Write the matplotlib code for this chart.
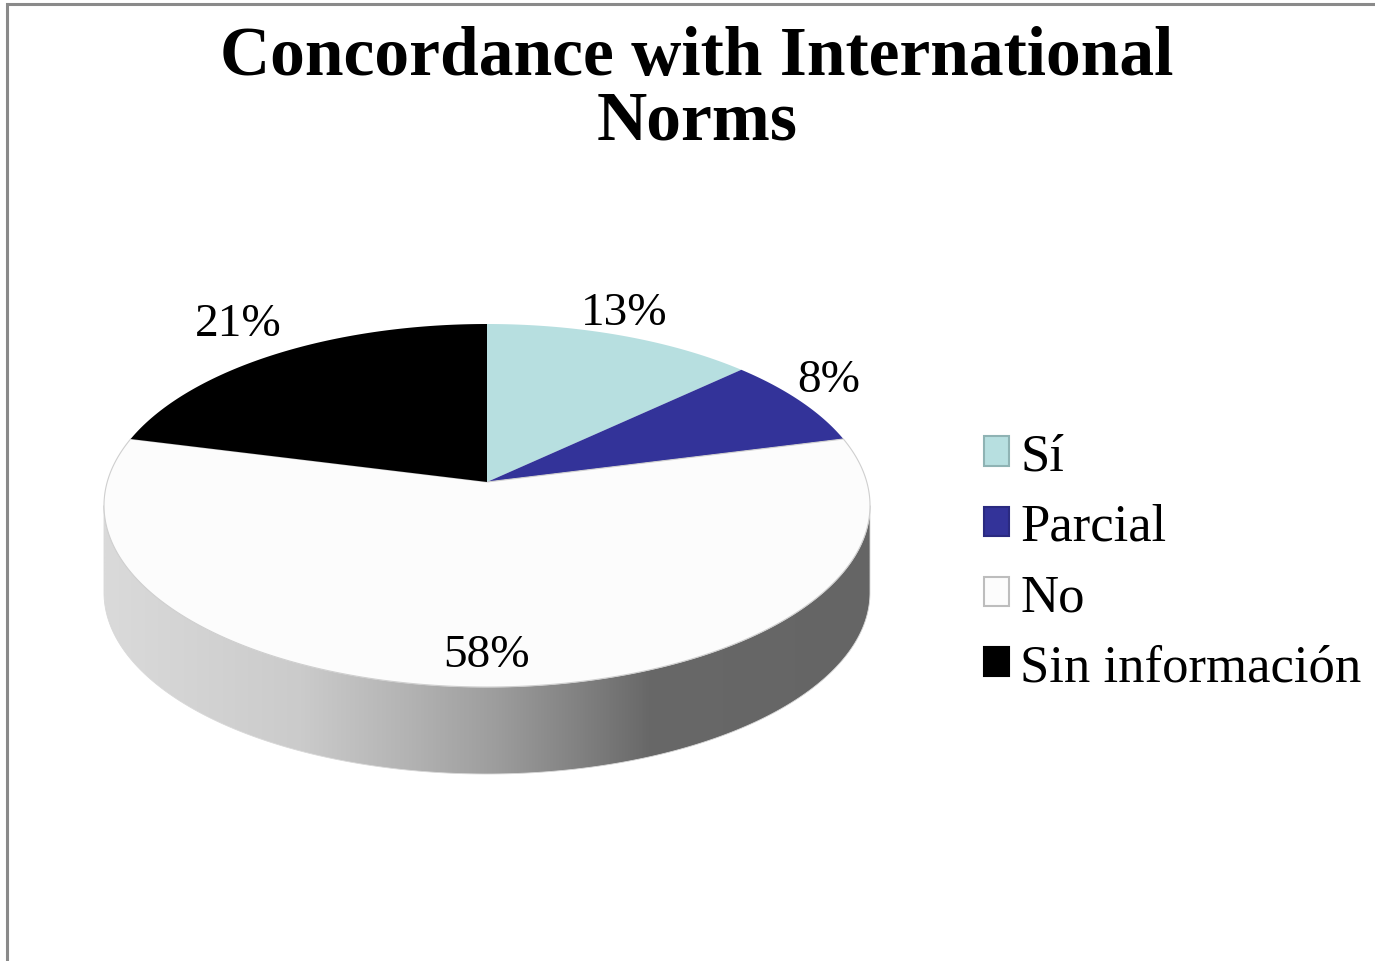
import numpy as np
import matplotlib
matplotlib.use("Agg")
import matplotlib.pyplot as plt
from matplotlib.patches import Polygon, Patch, Rectangle
from matplotlib.colors import LinearSegmentedColormap
from matplotlib.transforms import Transform
from matplotlib.path import Path

# ---- data ----
categories = ["Sí", "Parcial", "No", "Sin información"]
values = [13, 8, 58, 21]
colors = ["#b7dfe0", "#333399", "#fcfcfc", "#000000"]
legend_edges = ["#8fb3b4", "#2a2a80", "#bdbdbd", "#000000"]
title = "Concordance with International\nNorms"

W, H = 1375, 962
fig = plt.figure(figsize=(W / 100, H / 100), dpi=100)
fig.patch.set_facecolor("white")
ax = fig.add_axes([0, 0, 1, 1])

# ---- perspective geometry (pixels, y up) ----
APEX_X, APEX_Y = 487.0, H - 483.0
K = 0.1295
A = 158.0 * (1 + K)
B = 383.0 * np.sqrt(1 - K * K)
DEPTH = 87.0


class Persp(Transform):
    input_dims = 2
    output_dims = 2
    is_separable = False
    has_inverse = False

    def transform_non_affine(self, xy):
        xy = np.asarray(xy, dtype=float)
        u, v = xy[:, 0], xy[:, 1]
        d = 1 + K * v
        return np.column_stack([APEX_X + B * u / d, APEX_Y + A * v / d])

    def transform_path_non_affine(self, path):
        pts = []
        tt = np.linspace(0, 1, 40)
        for seg, code in path.iter_bezier():
            pts.append(np.atleast_2d(seg(tt)))
        pts = np.vstack(pts)
        pts = np.vstack([pts, pts[:1]])
        return Path(self.transform_non_affine(pts), closed=True)


persp = Persp()

wedges, texts, autotexts = ax.pie(
    values, colors=colors, startangle=90, counterclock=False,
    autopct="%1.0f%%", labels=None,
    wedgeprops=dict(linewidth=0.8, edgecolor="none", zorder=3),
    textprops=dict(family="Liberation Serif", fontsize=34, color="black"))
wedges[2].set_edgecolor("#cfcfcf")
for w in wedges:
    w.set_transform(persp + ax.transData)

ax.set_aspect("auto")
ax.axis("off")

# ---- 3D side band with gradient ----
t0 = np.pi + np.arcsin(K)
t1 = 2 * np.pi - np.arcsin(K)
th = np.linspace(t0, t1, 400)
top = persp.transform_non_affine(np.column_stack([np.cos(th), np.sin(th)]))
bot = top.copy()
bot[:, 1] -= DEPTH
side = Polygon(np.vstack([top, bot[::-1]]), closed=True, facecolor="none",
               edgecolor="#d8d8d8", linewidth=0.6, zorder=1.5,
               transform=ax.transData)
ax.add_patch(side)
cmap = LinearSegmentedColormap.from_list("side", [
    (0.0, "#dadada"), (0.255, "#cbcbcb"), (0.386, "#b5b5b5"),
    (0.517, "#9c9c9c"), (0.648, "#7a7a7a"), (0.713, "#686868"),
    (1.0, "#656565")])
grad = np.linspace(0, 1, 512).reshape(1, -1)
xl, xr = top[:, 0].min(), top[:, 0].max()
im = ax.imshow(grad, cmap=cmap,
               extent=(xl, xr, bot[:, 1].min() - 2, top[:, 1].max() + 2),
               aspect="auto", zorder=1, interpolation="bilinear")
im.set_clip_path(side)
ax.set_xlim(0, W)
ax.set_ylim(0, H)

# ---- percentage labels (style: per-slice placement factors) ----
lab_fx = [1.04, 1.11, 1.0, 1.208]
lab_fy = [1.18, 1.28, 0.861, 1.266]
tot = float(sum(values))
start = 90.0
for t, v, fx, fy in zip(autotexts, values, lab_fx, lab_fy):
    span = 360.0 * v / tot
    a = np.deg2rad(start - span / 2)
    start -= span
    pos = persp.transform_non_affine(np.array([[fx * np.cos(a), fy * np.sin(a)]]))[0]
    t.set_transform(ax.transData)
    t.set_position(tuple(pos))
    t.set_ha("center")
    t.set_va("center")
    t.set_zorder(5)

# ---- legend ----
handles = [Patch(facecolor=c, edgecolor=e, linewidth=1.5)
           for c, e in zip(colors, legend_edges)]
leg = ax.legend(handles, categories, loc="center left",
                bbox_to_anchor=(984 / W, 1 - 563 / H),
                bbox_transform=fig.transFigure, frameon=False,
                prop=dict(family="Liberation Serif", size=38),
                handlelength=0.47, handleheight=0.47, handletextpad=0.22,
                labelspacing=0.42, borderpad=0, borderaxespad=0)

# ---- title ----
fig.text(697 / W, 1 - 90 / H, title, ha="center", va="center",
         family="Liberation Serif", fontweight="bold", fontsize=50,
         linespacing=1.02)

# ---- chart border (visible top and left edges) ----
fig.patches.append(Rectangle((7 / W, -0.1), 2.0, 1.1 - 5 / H,
                             transform=fig.transFigure, fill=False,
                             edgecolor="#8a8a8a", linewidth=2.2))

fig.savefig("out.png", dpi=100)
